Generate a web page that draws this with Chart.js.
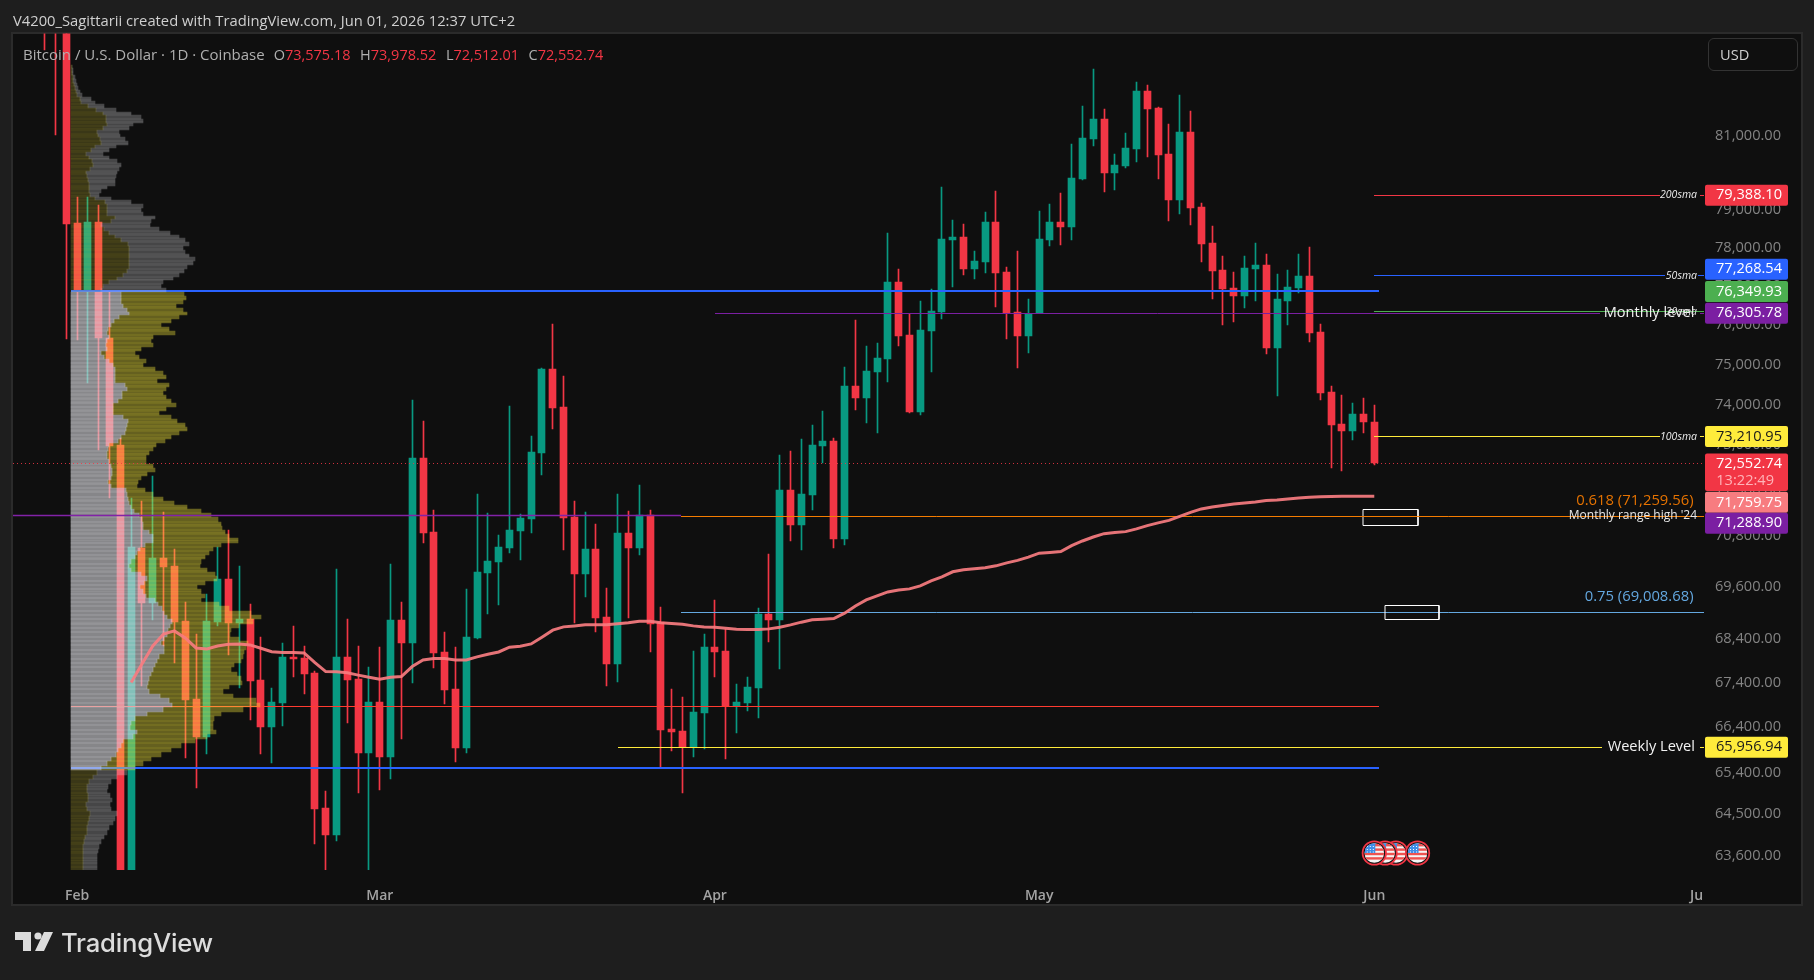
<!DOCTYPE html>
<html>
<head>
<meta charset="utf-8">
<title>BTCUSD daily</title>
<script src="https://cdn.jsdelivr.net/npm/chart.js@4"></script>
<style>
  html, body { margin: 0; background: #1e1e1e; overflow: hidden; }
  canvas { position: absolute; left: 0; top: 0; }
  .txt { position: absolute; white-space: nowrap; line-height: 20px; font-family: "Open Sans", sans-serif; }
  #header { left: 13px; top: 10px; font-size: 14.75px; color: #d0d0d0; }
  #legend { left: 23px; top: 44px; font-size: 14.5px; color: #b0b0b0; }
  #legend b { font-weight: 400; color: #f23645; margin-right: 9.5px; }
  #legend span { margin-right: 9px; font-size: 15px; }
  #usd { left: 1708px; top: 38px; width: 88px; height: 31px; line-height: 31px; border: 1px solid #333; border-radius: 6px; font-size: 14.6px; color: #cfcfcf; text-indent: 11px; }
  #brand { left: 61px; top: 927px; line-height: 32px; font-family: Inter, sans-serif; font-weight: 500; font-size: 25.7px; letter-spacing: -0.2px; color: #dcdcdc; }
  #mark { position: absolute; left: 15px; top: 932px; }
</style>
</head>
<body>
<canvas id="myChart" width="1814" height="980"></canvas>
<div class="txt" id="header">V4200_Sagittarii created with TradingView.com, Jun 01, 2026 12:37 UTC+2</div>
<div class="txt" id="legend"><span>Bitcoin / U.S. Dollar · 1D · Coinbase</span>O<b>73,575.18</b>H<b>73,978.52</b>L<b>72,512.01</b>C<b>72,552.74</b></div>
<div class="txt" id="usd">USD</div>
<svg id="mark" width="38" height="20" viewBox="0 0 38 20"><path d="M0 0H16V19H8V8H0Z M38 0L29 19H20L29 0Z" fill="#dcdcdc"/><circle cx="23" cy="4" r="3.6" fill="#dcdcdc"/></svg>
<div class="txt" id="brand">TradingView</div>
<script>
// daily candles, first bar is three days before Feb 1
const firstDay = -3;
const opens = [85200,85500,84400,78660,76900,78680,75680,73000,62800,70520,69230,70290,70100,68820,67040,66190,68790,69800,68770,68860,67470,66410,66950,67990,67970,67630,64630,64050,67990,67490,65830,66970,65740,68840,68310,72690,70900,68100,67260,65940,68420,69940,70190,70520,70930,71210,72810,74890,73940,71260,69910,70500,68910,67830,70880,70520,71310,68790,66370,66320,65960,66720,68220,68120,66880,66950,67290,68980,68840,71910,71070,71790,72980,73100,70740,74470,74170,74820,75140,77110,75750,73820,75860,76340,78210,78290,77450,77630,78680,77370,76340,75730,76310,78210,78680,78550,79830,80910,81450,79990,80180,80630,82220,81760,80500,79260,81100,79080,78130,77420,76960,76750,77450,77560,75420,76620,76960,77270,75830,74320,73520,73350,73770,73575.18];
const highs = [86400,87000,85000,79350,79350,79130,76880,73180,71720,71640,72250,71380,70500,69260,68520,69440,70550,70950,70100,69210,68450,67290,68310,68700,68240,67670,65000,70030,68860,68240,67760,68220,70150,69260,74120,73600,71430,68560,68220,69560,71810,71360,70830,73970,71330,73230,74920,76030,74720,71640,71380,71100,69580,71810,71410,72030,71430,69140,67260,67080,68120,68520,69300,68630,67380,67540,69120,70380,72760,72860,73150,73500,73840,73180,74940,76140,75470,75550,78390,77450,76290,76620,76930,79610,78740,78630,77920,78950,79500,77500,77920,76670,78980,79160,79450,80770,81810,82830,81730,80500,81070,82470,82390,81780,81320,82110,81670,79190,78580,77790,77370,77790,78130,77840,77320,77420,77840,78020,76030,74470,74240,74040,74170,73978.52];
const lows = [83360,81020,75650,75630,74540,72870,71720,60500,60000,67320,68840,68240,67860,65720,65070,65810,68700,68040,67290,66570,65810,65610,66430,67540,67150,63850,63290,63920,66500,64950,63290,65020,65260,66140,67400,70640,67740,66920,65630,65830,68400,68980,69190,70410,70240,70880,72280,73400,70480,68770,69370,68560,67330,67420,68890,70360,68100,65520,65880,64950,65740,65920,67540,65700,66280,66770,66610,68330,67720,70690,70480,71430,72570,70520,70590,73870,73550,73300,74570,75470,73800,73740,74820,76160,76980,77300,77190,77350,76470,75650,74920,75300,76310,78050,78080,78210,79800,80720,79480,79530,80120,80280,80420,79830,78710,78900,78600,77630,76670,76010,76080,76440,76620,75270,74220,76010,76830,75580,74120,72450,72370,73130,73300,72512.01];
const closes = [84600,84100,78630,76890,78680,75680,72990,62800,70550,69230,70290,70080,68790,67010,66190,68820,69800,68770,68860,67440,66410,66970,67990,67940,67600,64610,64050,67990,67470,65830,66970,65740,68840,68310,72690,70880,68080,67240,65940,68450,69960,70220,70550,70950,71240,72830,74890,73920,71240,69910,70500,68890,67830,70880,70520,71310,68750,66340,66300,65960,66750,68220,68100,66880,66970,67310,68980,68840,71910,71070,71810,73000,73100,70740,74470,74170,74840,75170,77110,75730,73820,75880,76370,78240,78290,77450,77660,78680,77350,76310,75730,76290,78240,78680,78550,79850,80940,81450,79990,80200,80660,82220,81730,80470,79260,81100,79050,78100,77400,76930,76750,77480,77560,75420,76670,76980,77270,75800,74290,73500,73350,73770,73570,72552.74];

// moving average, starts at day 5
const maFirstDay = 5;
const maValues = [67406,67830,68240,68515,68586,68424,68194,68171,68240,68279,68286,68263,68187,68109,68087,68087,68080,67860,67655,67649,67626,67574,67528,67483,67524,67542,67769,67921,67951,67951,67921,67921,67990,68050,68102,68210,68233,68286,68440,68602,68678,68701,68725,68725,68725,68748,68771,68810,68810,68771,68755,68741,68701,68678,68671,68648,68625,68616,68616,68632,68671,68725,68787,68840,68856,68870,68995,69163,69302,69395,69489,69536,69560,69630,69748,69842,69960,70006,70030,70053,70100,70171,70229,70304,70398,70417,70436,70578,70688,70783,70862,70891,70910,70975,71054,71118,71178,71274,71369,71453,71501,71537,71572,71596,71620,71656,71668,71692,71716,71735,71745,71750,71755,71758,71760,71759.75];

// volume profile rows, $100 bins from 82,900 down to 63,300
const profilePrices = [82900,82800,82700,82600,82500,82400,82300,82200,82100,82000,81900,81800,81700,81600,81500,81400,81300,81200,81100,81000,80900,80800,80700,80600,80500,80400,80300,80200,80100,80000,79900,79800,79700,79600,79500,79400,79300,79200,79100,79000,78900,78800,78700,78600,78500,78400,78300,78200,78100,78000,77900,77800,77700,77600,77500,77400,77300,77200,77100,77000,76900,76800,76700,76600,76500,76400,76300,76200,76100,76000,75900,75800,75700,75600,75500,75400,75300,75200,75100,75000,74900,74800,74700,74600,74500,74400,74300,74200,74100,74000,73900,73800,73700,73600,73500,73400,73300,73200,73100,73000,72900,72800,72700,72600,72500,72400,72300,72200,72100,72000,71900,71800,71700,71600,71500,71400,71300,71200,71100,71000,70900,70800,70700,70600,70500,70400,70300,70200,70100,70000,69900,69800,69700,69600,69500,69400,69300,69200,69100,69000,68900,68800,68700,68600,68500,68400,68300,68200,68100,68000,67900,67800,67700,67600,67500,67400,67300,67200,67100,67000,66900,66800,66700,66600,66500,66400,66300,66200,66100,66000,65900,65800,65700,65600,65500,65400,65300,65200,65100,65000,64900,64800,64700,64600,64500,64400,64300,64200,64100,64000,63900,63800,63700,63600,63500,63400,63300];
const profileFirst = [1,1,1,2,2,3,4,5,6,9,10,17,25,32,35,35,36,32,26,27,29,30,24,20,15,18,21,22,19,15,16,17,18,18,18,19,24,34,36,36,36,44,40,30,33,38,44,50,57,58,58,58,58,58,58,56,52,46,38,32,30,50,50,50,52,56,58,48,43,40,37,36,38,36,35,36,30,33,38,42,44,44,44,44,54,56,51,51,47,42,42,42,52,57,56,55,54,50,47,38,37,36,36,38,40,41,41,40,37,40,55,56,57,58,60,63,68,71,72,72,78,82,82,74,69,66,64,60,58,60,70,76,73,69,72,75,84,87,91,93,96,101,99,97,96,93,90,93,93,88,86,84,82,80,78,77,76,78,89,98,101,92,76,64,60,59,66,62,52,50,47,45,40,36,30,26,22,18,16,16,17,17,15,16,19,18,17,16,16,14,13,12,12,12,12,12,12];
const profileTotal = [1,2,2,4,5,6,7,9,11,20,24,33,45,60,70,72,62,58,48,49,54,57,45,38,32,38,46,50,48,46,45,44,44,36,30,28,40,60,72,70,72,84,80,79,88,99,108,114,118,112,114,118,124,122,116,113,108,102,92,90,95,113,115,112,105,112,116,108,100,90,98,104,82,80,82,70,64,68,75,72,84,92,95,86,98,95,92,95,100,105,95,88,100,106,114,116,108,100,94,85,82,78,75,75,82,84,76,70,67,66,74,82,92,103,116,130,140,147,150,151,154,158,167,150,142,138,134,130,129,136,144,146,134,126,130,134,130,148,158,180,190,182,168,160,159,168,177,175,173,172,170,163,160,166,170,171,158,152,162,185,189,172,150,143,142,142,145,136,124,110,100,90,80,72,64,56,46,40,37,36,39,41,39,40,46,44,42,38,36,33,30,28,27,26,26,26,26];
// bins that carry an extra hairline in the profile
const profileSeams = [82000,81800,81600,81400,81200,81000,80800,80600,80400,80200,80000,79800,79600,79400,79200,79000,78800,78600,78400,78200,78000,77800,77600,77400,77200,77000,76700,76500,76300,76100,75900,75700,75400,75200,75000,74900,74700,74600,74500,74300,74200,74100,73900,73800,73600,73500,73400,73200,73000,72800,72700,72500,72300,72100,71900,71700,71500,71100,70900,70700,70300,70000,69500,68800,65100,64900,64600,64400,64200,64000,63900,63700,63500];
const valueAreaHigh = 76878;
const valueAreaLow = 65500;

// horizontal levels: price, drawn spans in days
const lastPrice = 72552.74;
const levelNames = ['200sma', '50sma', '20sma', 'Monthly level', '100sma', 'Monthly range high', 'Fib 0.618', 'Fib 0.75', 'Weekly Level'];
const levelValues = [79388.10, 77268.54, 76349.93, 76305.78, 73210.95, 71288.90, 71259.56, 69008.68, 65956.94];
const levelSpans = [
  [[120, 146.4], [150.1, 150.5]],
  [[120, 146.9], [149.9, 150.5]],
  [[120, 150.5]],
  [[59, 140.9], [150.1, 150.5]],
  [[120, 146.4], [150.1, 150.5]],
  [[-5.93, 55.9]],
  [[55.9, 150.5]],
  [[55.9, 150.5]],
  [[50, 141.1], [150.1, 150.5]]
];
// the three long range lines run under the profile
const rangeValues = [76878, 66871, 65500];

// outlined boxes: first day, last day, upper price, lower price
const boxFrom = [119, 121];
const boxTo = [124, 126];
const boxHigh = [71445, 69178];
const boxLow = [71053, 68844];

const monthDays = [0, 28, 59, 89, 120, 150];
const monthNames = ['Feb', 'Mar', 'Apr', 'May', 'Jun', 'Jul'];
const priceTicks = [81000, 79000, 78000, 77000, 76000, 75000, 74000, 73000, 71900, 70800, 69600, 68400, 67400, 66400, 65400, 64500, 63600];
const eventDays = [122, 121, 120, 124];

const RED = '#f23645', GREEN = '#089981';
const dayNumbers = opens.map((_, i) => i + firstDay);
const candleColors = opens.map((o, i) => closes[i] >= o ? GREEN : RED);
const inValueArea = p => p <= valueAreaHigh && p >= valueAreaLow;

function lineFromSpans(price, spans) {
  const pts = [];
  spans.forEach(s => {
    pts.push({x: s[0], y: price}, {x: s[1], y: price}, {x: s[1], y: null});
  });
  return pts;
}
function flatLine(label, points, color, width, order, extra) {
  return Object.assign({type: 'line', label, data: points, borderColor: color, borderWidth: width,
    pointRadius: 0, tension: 0, order, xAxisID: 'x', yAxisID: 'y', borderCapStyle: 'butt'}, extra || {});
}
function profileBars(label, thickness, rows, from, to, colorOf) {
  const keep = profilePrices.map((p, i) => i).filter(rows);
  return {label, indexAxis: 'y', xAxisID: 'x2', yAxisID: 'y', grouped: false, barThickness: thickness, order: 4,
    data: keep.map(i => ({y: profilePrices[i], x: [from(i), to(i)]})),
    backgroundColor: keep.map(i => colorOf(profilePrices[i]))};
}

const levelColors = [RED, '#2962ff', '#4caf50', '#7b1fa2', '#ffeb3b', '#8222a8', '#f57c00', '#64a8e0', '#ffeb3b'];
const levelWidths = [1, 1, 1, 1, 1, 1.5, 1, 1, 1];
const isSeam = i => profileSeams.includes(profilePrices[i]);

const datasets = [
  {label: 'wicks', data: dayNumbers.map((d, i) => ({x: d, y: [lows[i], highs[i]]})), backgroundColor: candleColors, barThickness: 1, grouped: false, order: 7},
  {label: 'bodies', data: dayNumbers.map((d, i) => ({x: d, y: [opens[i], closes[i]]})), backgroundColor: candleColors, barThickness: 7, grouped: false, order: 6},
  flatLine('range 1', lineFromSpans(rangeValues[0], [[-0.56, 120.43]]), '#2962ff', 2, 5),
  flatLine('range 2', lineFromSpans(rangeValues[1], [[-0.56, 120.43]]), '#ff3b30', 1, 5),
  flatLine('range 3', lineFromSpans(rangeValues[2], [[-0.56, 120.43]]), '#2962ff', 2, 5),
  // profile bars share the price axis but run along their own hidden x axis
  profileBars('profile first', 4, () => true, () => 0, i => profileFirst[i], p => inValueArea(p) ? 'rgba(220,220,225,0.58)' : 'rgba(255,240,62,0.18)'),
  profileBars('profile rest', 4, () => true, i => profileFirst[i], i => profileTotal[i], p => inValueArea(p) ? 'rgba(255,240,62,0.36)' : 'rgba(220,220,225,0.27)'),
  profileBars('seam first', 1, isSeam, () => 0, i => profileFirst[i], p => inValueArea(p) ? 'rgba(255,255,255,0.09)' : 'rgba(255,240,62,0.05)'),
  profileBars('seam rest', 1, isSeam, i => profileFirst[i], i => profileTotal[i], p => inValueArea(p) ? 'rgba(255,240,62,0.12)' : 'rgba(255,255,255,0.07)')
];
levelNames.forEach((name, i) => {
  datasets.push(flatLine(name, lineFromSpans(levelValues[i], levelSpans[i]), levelColors[i], levelWidths[i], i === 6 ? 2 : 3));
});
datasets.push(flatLine('last price', lineFromSpans(lastPrice, [[-5.93, 150.5]]), 'rgba(242,54,69,0.85)', 1, 3, {borderDash: [1, 3]}));
boxFrom.forEach((from, i) => {
  datasets.push(flatLine('box ' + i, [{x: from, y: boxHigh[i]}, {x: boxTo[i], y: boxHigh[i]}, {x: boxTo[i], y: boxLow[i]}, {x: from, y: boxLow[i]}, {x: from, y: boxHigh[i]}], '#ffffff', 1, 2));
});
datasets.push(flatLine('ma', maValues.map((v, i) => ({x: i + maFirstDay, y: v})), 'rgba(247,124,128,0.92)', 3, 1));

const panelPlugin = {
  id: 'panel',
  beforeDraw(chart) {
    const c = chart.ctx;
    c.save();
    c.fillStyle = '#1e1e1e';
    c.fillRect(0, 0, chart.width, chart.height);
    c.fillStyle = '#0f0f0f';
    c.strokeStyle = '#2b2b2b';
    c.lineWidth = 2;
    c.fillRect(12, 33, 1790, 872);
    c.strokeRect(12, 33, 1790, 872);
    c.restore();
  }
};

// pixel snapping so candles, levels and profile rows stay crisp
const snapPlugin = {
  id: 'snap',
  afterDatasetsUpdate(chart) {
    chart.data.datasets.forEach((ds, idx) => {
      const meta = chart.getDatasetMeta(idx);
      if (meta.type === 'line') {
        if (ds.label === 'ma') return;
        meta.data.forEach(el => {
          el.x = Math.round(el.x);
          el.y = ds.borderWidth % 2 ? Math.floor(el.y) + 0.5 : Math.round(el.y);
        });
        return;
      }
      if (ds.indexAxis === 'y' && ds.barThickness === 1) {
        meta.data.forEach(el => {
          el.y = Math.round(el.y) + 0.5;
          el.height = 1;
          el.x = Math.round(el.x);
          el.base = Math.round(el.base);
        });
      } else if (ds.indexAxis === 'y') {
        // rows fill the space up to the neighbouring bins
        const centres = meta.data.map(el => el.y);
        meta.data.forEach((el, i) => {
          const above = i > 0 ? centres[i - 1] : 2 * centres[i] - centres[i + 1];
          const below = i < centres.length - 1 ? centres[i + 1] : 2 * centres[i] - centres[i - 1];
          const top = Math.round((above + centres[i]) / 2);
          const bottom = Math.round((centres[i] + below) / 2);
          el.y = (top + bottom) / 2;
          el.height = bottom - top;
          el.x = Math.round(el.x);
          el.base = Math.round(el.base);
        });
      } else {
        meta.data.forEach(el => {
          el.x = Math.floor(el.x) + 0.5;
          const a = Math.round(el.y), b = Math.round(el.base);
          el.y = a;
          el.base = a === b ? b + 1 : b;
        });
      }
    });
  }
};

// flag badges, price tags and line captions go on top of everything
const tagValues = [79388.10, 77268.54, 76349.93, 76305.78, 73210.95, 71759.75, 71288.90, 65956.94];
const tagColors = [RED, '#2962ff', '#4caf50', '#7b1fa2', '#ffeb3b', '#f77c80', '#7b1fa2', '#ffeb3b'];
const tagInk = ['#fff', '#fff', '#fff', '#fff', '#1a1a1a', '#fff', '#fff', '#1a1a1a'];
const tagShift = [0, -6.7, -20, 0, 0, 6.2, 7.4, 0];
const captions = [
  ['Monthly level', 76305.78, '14.6px "Open Sans"', '#f2f2f2', 9.5, 0],
  ['Monthly range high \u002724', 71288.90, '12px "Open Sans"', '#e8e8e8', 7, 0],
  ['0.618 (71,259.56)', 71259.56, '14.8px "Open Sans"', '#e67300', 10.5, -16],
  ['0.75 (69,008.68)', 69008.68, '14.8px "Open Sans"', '#64a8e0', 10.5, -16],
  ['Weekly Level', 65956.94, '14.6px "Open Sans"', '#f2f2f2', 9, 0],
  ['200sma', 79388.10, 'italic 10.5px "Open Sans"', '#eee', 7, 0],
  ['50sma', 77268.54, 'italic 10.5px "Open Sans"', '#eee', 7, 0],
  ['20sma', 76349.93, 'italic 10.5px "Open Sans"', '#ddd', 7, 0],
  ['100sma', 73210.95, 'italic 10.5px "Open Sans"', '#eee', 7, 0]
];

function drawFlag(c, cx, cy) {
  c.save();
  c.beginPath(); c.arc(cx, cy, 12.6, 0, Math.PI * 2); c.fillStyle = RED; c.fill();
  c.beginPath(); c.arc(cx, cy, 10.8, 0, Math.PI * 2); c.fillStyle = '#141414'; c.fill();
  c.beginPath(); c.arc(cx, cy, 9.8, 0, Math.PI * 2); c.clip();
  c.fillStyle = '#f5f5f5'; c.fillRect(cx - 10, cy - 10, 20, 20);
  c.fillStyle = '#ef5350';
  [-9, -4.6, -0.2, 4.2].forEach(o => c.fillRect(cx - 10, cy + o, 20, 2.4));
  c.fillStyle = '#3f8fe8'; c.fillRect(cx - 10, cy - 10, 11, 10);
  c.fillStyle = '#fff';
  [-7.5, -4.5, -1.5].forEach(dx => [-7, -4, -1.5].forEach(dy => c.fillRect(cx + dx, cy + dy, 1, 1)));
  c.restore();
}

const overlayPlugin = {
  id: 'overlay',
  afterDraw(chart) {
    const c = chart.ctx, y = chart.scales.y, x = chart.scales.x, area = chart.chartArea;
    c.save();
    // month labels stop at the plot edge
    c.fillStyle = '#0f0f0f';
    c.fillRect(area.right, area.bottom, 97, 34);
    eventDays.forEach(d => drawFlag(c, x.getPixelForValue(d), area.bottom - 17));
    c.textBaseline = 'middle';
    c.textAlign = 'right';
    captions.forEach(cap => {
      c.font = cap[2];
      c.fillStyle = cap[3];
      c.fillText(cap[0], area.right - cap[4], y.getPixelForValue(cap[1]) + cap[5]);
    });
    c.font = '500 14.6px "Open Sans"';
    tagValues.forEach((v, i) => {
      const cy = y.getPixelForValue(v) + tagShift[i];
      c.fillStyle = tagColors[i];
      c.beginPath(); c.roundRect(area.right + 1, cy - 10.5, 83, 21, 2); c.fill();
      c.fillStyle = tagInk[i];
      c.fillText(v.toLocaleString('en-US', {minimumFractionDigits: 2}), area.right + 78, cy);
    });
    const ly = y.getPixelForValue(lastPrice);
    c.fillStyle = RED;
    c.beginPath(); c.roundRect(area.right + 1, ly - 10, 83, 37.6, 2); c.fill();
    c.fillStyle = '#fff';
    c.fillText(lastPrice.toLocaleString('en-US', {minimumFractionDigits: 2}), area.right + 78, ly);
    c.fillStyle = '#ffb3b8';
    c.fillText('13:22:49', area.right + 70, ly + 17);
    c.restore();
  }
};

new Chart(document.getElementById('myChart'), {
  type: 'bar',
  data: {datasets},
  plugins: [panelPlugin, snapPlugin, overlayPlugin],
  options: {
    responsive: false,
    animation: false,
    events: [],
    devicePixelRatio: 1,
    layout: {padding: {left: 13, top: 33.5, right: 12, bottom: 75}},
    plugins: {legend: {display: false}, title: {display: false}, tooltip: {enabled: false}},
    scales: {
      x: {
        type: 'linear', position: 'bottom', min: -5.93, max: 150.5, offset: false,
        grid: {display: false}, border: {display: false},
        afterBuildTicks: s => { s.ticks = monthDays.map(v => ({value: v})); },
        afterFit: s => { s.height = 35; },
        ticks: {
          autoSkip: false, maxRotation: 0, padding: 10, color: '#a3a3a3',
          font: {family: '"Open Sans"', size: 14, weight: '600'},
          callback: v => monthNames[monthDays.indexOf(v)]
        }
      },
      x2: {type: 'linear', display: false, min: -58, max: 1633, offset: false, grid: {display: false}},
      y: {
        type: 'logarithmic', position: 'right', min: 63294, max: 83821, offset: false, beginAtZero: false,
        grid: {display: false}, border: {display: false},
        afterBuildTicks: s => { s.ticks = priceTicks.map(v => ({value: v})); },
        afterFit: s => { s.width = 98; },
        ticks: {
          autoSkip: false, padding: 3, color: '#848484',
          font: {family: '"Open Sans"', size: 14.6},
          callback: v => Number(v).toLocaleString('en-US', {minimumFractionDigits: 2})
        }
      }
    }
  }
});
</script>
</body>
</html>
